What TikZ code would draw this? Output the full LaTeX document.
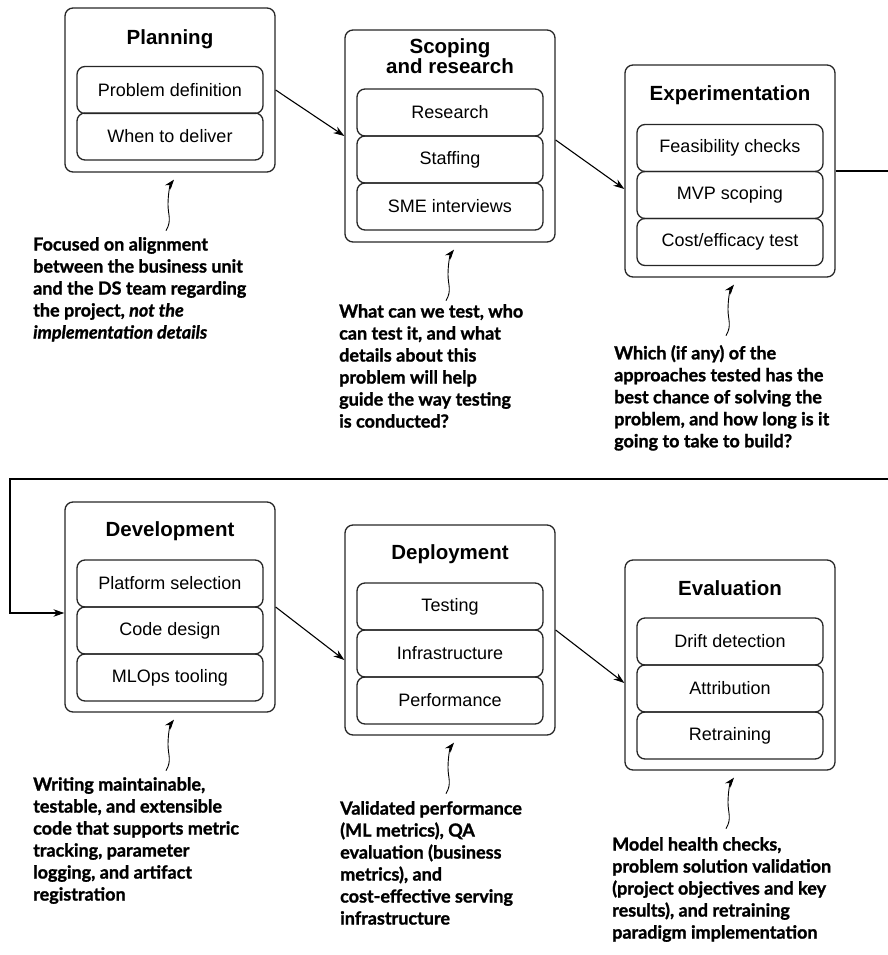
\documentclass[tikz,border=0pt]{standalone}
\usepackage{fontspec}
\setmainfont{Liberation Sans}
\newfontfamily\annfont{Lato}[BoldFeatures={FakeBold=1.3},BoldItalicFeatures={FakeBold=1.3}]
\usetikzlibrary{arrows.meta,calc}
\begin{document}
\begin{tikzpicture}[x=1pt,y=-1pt,
  stage/.style={draw=black!85, line width=1.3pt, rounded corners=8pt, minimum width=210pt, inner sep=0pt},
  item/.style={draw=black!85, line width=1.3pt, rounded corners=8pt, minimum width=186pt, minimum height=47pt, font=\fontsize{18}{20}\selectfont, inner sep=0pt},
  ttl/.style={font=\fontsize{20.5}{23}\selectfont\bfseries, anchor=base},
  note/.style={font=\annfont\bfseries\fontsize{18}{22}\selectfont, align=left, anchor=north west, inner sep=0pt},
  conn/.style={line width=1.1pt, -{Stealth[length=11pt,width=7.5pt]}},
  plain/.style={line width=1.1pt},
  wig/.style={line width=0.9pt, -{Stealth[length=10pt,width=7pt]}}
]
\useasboundingbox (0,0) rectangle (888,955);

% ---------- top row ----------
\node[stage, minimum height=164pt] (plan) at (170,90) {};
\node[ttl] (plantitle) at (170,45) {Planning};
\node[item] (p1) at (170,90) {Problem definition};
\node[item] (p2) at (170,136.5) {When to deliver};

\node[stage, minimum height=212pt] (scope) at (450,136) {};
\node[ttl] (scopetitle1) at (450,54) {Scoping};
\node[ttl] (scopetitle2) at (450,74) {and research};
\node[item] (s1) at (450,112.5) {Research};
\node[item] (s2) at (450,159.5) {Staffing};
\node[item] (s3) at (450,206.5) {SME interviews};

\node[stage, minimum height=212pt] (exp) at (730,171) {};
\node[ttl] (exptitle) at (730,101) {Experimentation};
\node[item] (e1) at (730,148) {Feasibility checks};
\node[item] (e2) at (730,195) {MVP scoping};
\node[item] (e3) at (730,242) {Cost/efficacy test};

% ---------- bottom row ----------
\node[stage, minimum height=210pt] (dev) at (170,607) {};
\node[ttl] (devtitle) at (170,536) {Development};
\node[item] (d1) at (170,583.5) {Platform selection};
\node[item] (d2) at (170,630.5) {Code design};
\node[item] (d3) at (170,677.5) {MLOps tooling};

\node[stage, minimum height=210pt] (dep) at (450,630) {};
\node[ttl] (deptitle) at (450,559) {Deployment};
\node[item] (y1) at (450,606.5) {Testing};
\node[item] (y2) at (450,653.5) {Infrastructure};
\node[item] (y3) at (450,700.5) {Performance};

\node[stage, minimum height=210pt] (eval) at (730,665) {};
\node[ttl] (evaltitle) at (730,595) {Evaluation};
\node[item] (v1) at (730,641.5) {Drift detection};
\node[item] (v2) at (730,688.5) {Attribution};
\node[item] (v3) at (730,735.5) {Retraining};

% ---------- flow connectors ----------
\draw[conn] (plan.east) -- (scope.west);
\draw[conn] ([yshift=-4pt]scope.east) -- ([yshift=-18pt]exp.west);
\coordinate (rightedge) at (888,171);
\draw[plain] (exp.east) -- (rightedge);
\coordinate (wrapR) at (888,479);
\coordinate (wrapL) at (10,479);
\draw[conn] (wrapR) -- (wrapL) |- ([yshift=-6pt]dev.west);
\draw[conn] (dev.east) -- ([yshift=-30pt]dep.west);
\draw[conn] (dep.east) -- ([yshift=-18pt]eval.west);

% ---------- annotations ----------
\node[note] (n1) at (33,237) {Focused on alignment\\between the business unit\\and the DS team regarding\\the project, \textit{not the}\\\textit{implementation details}};
\node[note] (n2) at (339,304) {What can we test, who\\can test it, and what\\details about this\\problem will help\\guide the way testing\\is conducted?};
\node[note] (n3) at (614,345) {Which (if any) of the\\approaches tested has the\\best chance of solving the\\problem, and how long is it\\going to take to build?};
\node[note] (n4) at (33,777) {Writing maintainable,\\testable, and extensible\\code that supports metric\\tracking, parameter\\logging, and artifact\\registration};
\node[note] (n5) at (340,801) {Validated performance\\(ML metrics), QA\\evaluation (business\\metrics), and\\cost-effective serving\\infrastructure};
\node[note] (n6) at (612,837) {Model health checks,\\problem solution validation\\(project objectives and key\\results), and retraining\\paradigm implementation};

% ---------- wiggly arrows ----------
\foreach \b in {plan,scope,exp,dev,dep,eval}{
  \coordinate (tip-\b) at ($(\b.south)+(4,7)$);
  \coordinate (tail-\b) at ($(tip-\b)+(-8,51)$);
  \draw[wig] (tail-\b) .. controls +(6,-10) and +(0,10) .. ($(tail-\b)+(2,-26)$)
                       .. controls +(0,-10) and +(-4,5) .. (tip-\b);
}
\end{tikzpicture}
\end{document}
